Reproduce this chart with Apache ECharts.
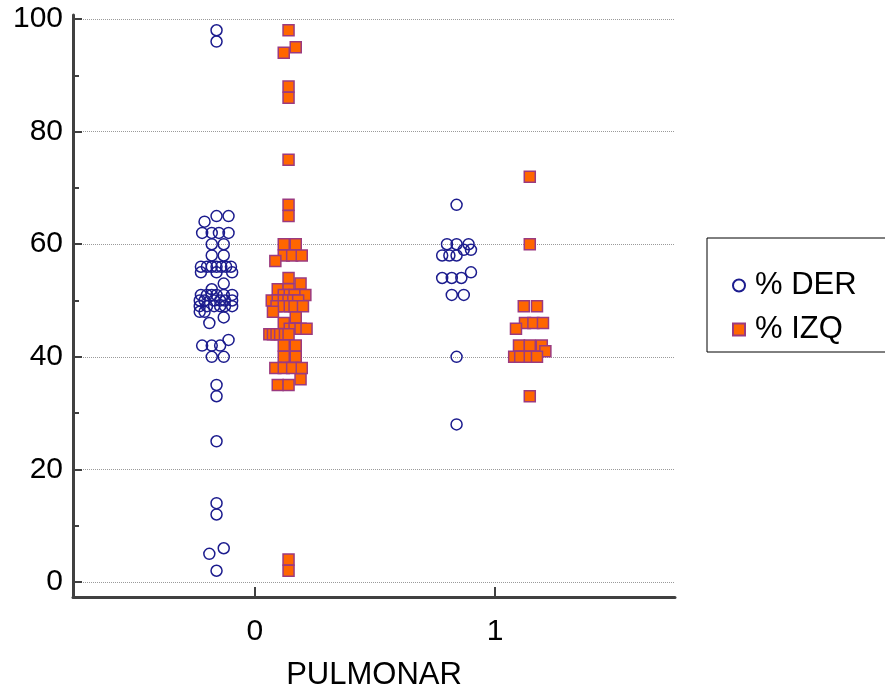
<!DOCTYPE html>
<html>
<head>
<meta charset="utf-8">
<script src="https://cdn.jsdelivr.net/npm/echarts@6/dist/echarts.min.js"></script>
<style>
  html, body { margin: 0; padding: 0; background: #fff; }
  #chart { width: 885px; height: 691px; }
</style>
</head>
<body>
<div id="chart"></div>
<script>
// Categories (PULMONAR groups)
const categories = ['0', '1'];
const seriesNames = ['% DER', '% IZQ'];
const yTickValues = [0, 20, 40, 60, 80, 100];
const yMinorTickValues = [10, 30, 50, 70, 90];

// % DER, group 0: values and horizontal jitter (category units)
const derCat0Values = [98, 96, 65, 65, 64,
  62, 62, 62, 62, 60, 60, 58, 58,
  56, 56, 56, 56, 56, 56, 56, 55, 55, 55, 53, 52,
  51, 51, 51, 51, 51, 51, 50, 50, 50, 50, 50, 50,
  49, 49, 49, 49, 49, 49, 48, 48, 47, 46, 43,
  42, 42, 42, 40, 40, 35, 33, 25, 14, 12, 6, 5, 2];
const derCat0Jitter = [-0.16, -0.16, -0.16, -0.11, -0.21,
  -0.22, -0.18, -0.15, -0.11, -0.18, -0.13, -0.18, -0.13,
  -0.225, -0.20, -0.18, -0.16, -0.14, -0.12, -0.10, -0.225, -0.16, -0.095, -0.13, -0.18,
  -0.225, -0.20, -0.18, -0.16, -0.13, -0.095, -0.23, -0.21, -0.17, -0.145, -0.125, -0.095,
  -0.23, -0.20, -0.17, -0.145, -0.125, -0.095, -0.23, -0.21, -0.13, -0.19, -0.11,
  -0.22, -0.18, -0.145, -0.18, -0.13, -0.16, -0.16, -0.16, -0.16, -0.16, -0.13, -0.19, -0.16];

// % DER, group 1
const derCat1Values = [67, 60, 60, 60, 59, 59, 58, 58, 58, 55, 54, 54, 54, 51, 51, 40, 28];
const derCat1Jitter = [-0.16, -0.20, -0.16, -0.11, -0.13, -0.10, -0.22, -0.19, -0.16, -0.10,
  -0.22, -0.18, -0.14, -0.18, -0.13, -0.16, -0.16];

// % IZQ, group 0
const izqCat0Values = [98, 95, 94, 88, 86, 75, 67, 65,
  60, 60, 58, 58, 58, 57, 54, 53, 52, 52, 51, 51, 51, 51,
  50, 50, 50, 50, 50, 50, 49, 49, 49, 49, 49, 48, 47, 46,
  45, 45, 45, 45, 44, 44, 44, 44, 44, 44,
  42, 42, 40, 40, 38, 38, 38, 38, 36, 35, 35, 4, 2];
const izqCat0Jitter = [0.14, 0.17, 0.12, 0.14, 0.14, 0.14, 0.14, 0.14,
  0.12, 0.17, 0.12, 0.155, 0.195, 0.085, 0.14, 0.19, 0.095, 0.14, 0.12, 0.145, 0.165, 0.21,
  0.07, 0.095, 0.12, 0.14, 0.16, 0.18, 0.09, 0.12, 0.145, 0.165, 0.20, 0.075, 0.17, 0.12,
  0.145, 0.165, 0.19, 0.215, 0.06, 0.075, 0.09, 0.105, 0.125, 0.14,
  0.12, 0.17, 0.12, 0.17, 0.085, 0.12, 0.155, 0.195, 0.19, 0.095, 0.14, 0.14, 0.14];

// % IZQ, group 1
const izqCat1Values = [72, 60, 49, 49, 46, 46, 46, 45, 42, 42, 42, 41, 40, 40, 40, 40, 33];
const izqCat1Jitter = [0.145, 0.145, 0.12, 0.175, 0.125, 0.16, 0.20, 0.0875, 0.10, 0.145, 0.195,
  0.21, 0.08, 0.105, 0.145, 0.175, 0.145];

function points(group, values, jitter) {
  return values.map((v, i) => [group + jitter[i], v]);
}

const derData = points(0, derCat0Values, derCat0Jitter).concat(points(1, derCat1Values, derCat1Jitter));
const izqData = points(0, izqCat0Values, izqCat0Jitter).concat(points(1, izqCat1Values, izqCat1Jitter));

const FONT = 'Liberation Sans, Arial, Helvetica, sans-serif';
const AXIS_COLOR = '#404040';

const chart = echarts.init(document.getElementById('chart'), null, { renderer: 'canvas' });
chart.setOption({
  animation: false,
  backgroundColor: '#ffffff',
  textStyle: { fontFamily: FONT },
  grid: { left: 73, right: 210, top: 15, bottom: 94, containLabel: false, outerBoundsMode: 'none' },
  legend: {
    data: [
      { name: seriesNames[0], icon: 'circle' },
      { name: seriesNames[1], icon: 'rect' }
    ],
    orient: 'vertical',
    left: 707,
    top: 238,
    borderColor: '#000',
    borderWidth: 1,
    padding: [32, 40, 7, 25],
    itemWidth: 12,
    itemHeight: 12,
    itemGap: 13,
    textStyle: { fontFamily: FONT, fontSize: 31, color: '#000', padding: [0, 0, 0, 5] }
  },
  xAxis: {
    type: 'value',
    min: -0.758,
    max: 1.75,
    name: 'PULMONAR',
    nameLocation: 'middle',
    nameGap: 63,
    nameTextStyle: { fontFamily: FONT, fontSize: 31, color: '#000' },
    axisLine: { show: true, onZero: false, lineStyle: { color: AXIS_COLOR, width: 3 } },
    axisTick: { show: true, inside: true, length: 10, customValues: [0, 1], lineStyle: { color: AXIS_COLOR, width: 2 } },
    axisLabel: {
      customValues: [0, 1],
      formatter: v => categories[Math.round(v)],
      fontFamily: FONT, fontSize: 30, color: '#000', margin: 20
    },
    splitLine: { show: false }
  },
  yAxis: [
    {
      type: 'value',
      min: -2.66,
      max: 100.71,
      position: 'left',
      axisLine: { show: true, onZero: false, lineStyle: { color: AXIS_COLOR, width: 3 } },
      axisTick: { show: true, inside: true, length: 9, customValues: yTickValues, lineStyle: { color: AXIS_COLOR, width: 2 } },
      axisLabel: { customValues: yTickValues, fontFamily: FONT, fontSize: 30, color: '#000', margin: 10 },
      splitLine: { show: true, lineStyle: { color: '#9a9a9a', width: 1, type: [1, 1] } }
    },
    {
      type: 'value',
      min: -2.66,
      max: 100.71,
      position: 'left',
      offset: 0,
      axisLine: { show: false, onZero: false },
      axisTick: { show: true, inside: true, length: 6, customValues: yMinorTickValues, lineStyle: { color: AXIS_COLOR, width: 2 } },
      axisLabel: { show: false },
      splitLine: { show: false }
    }
  ],
  series: [
    {
      name: seriesNames[0],
      type: 'scatter',
      symbol: 'circle',
      symbolSize: 11,
      data: derData,
      itemStyle: { color: 'rgba(255,255,255,0)', borderColor: '#1c1c8e', borderWidth: 1.5, opacity: 1 },
      emphasis: { disabled: true },
      z: 3
    },
    {
      name: seriesNames[1],
      type: 'scatter',
      symbol: 'rect',
      symbolSize: 11,
      data: izqData,
      itemStyle: { color: '#ff6600', borderColor: '#9b3a80', borderWidth: 1.5, opacity: 1 },
      emphasis: { disabled: true },
      z: 4
    }
  ]
});
</script>
</body>
</html>
